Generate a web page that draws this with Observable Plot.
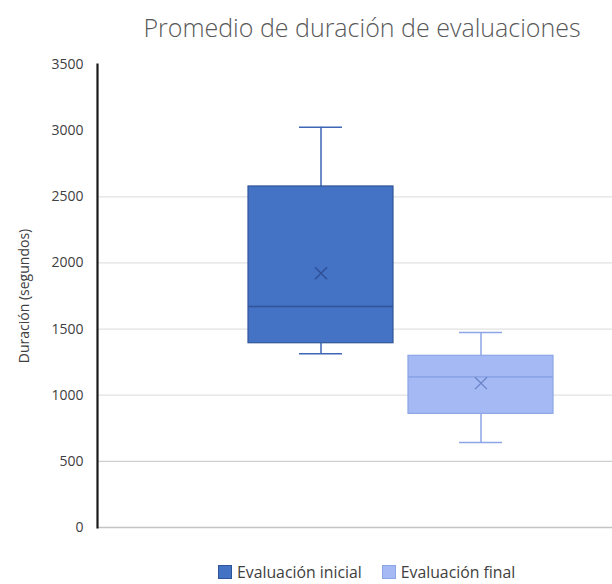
<!DOCTYPE html>
<html>
<head>
<meta charset="utf-8">
<script src="https://cdn.jsdelivr.net/npm/d3@7"></script>
<script src="https://cdn.jsdelivr.net/npm/@observablehq/plot@0.6"></script>
<style>
  body { margin: 0; background: #fff; }
  #wrap { position: relative; width: 612px; height: 584px; overflow: hidden; font-family: "Open Sans", sans-serif; }
  #title { position: absolute; top: 10px; left: 362px; transform: translateX(-50%); white-space: nowrap;
           font-size: 25px; font-weight: 300; color: #595959; line-height: 34px; }
  #legend { position: absolute; top: 561px; left: 218px; white-space: nowrap; font-size: 15.8px; color: #404040;
            display: flex; align-items: center; line-height: 22px; }
  #legend .sw { display: inline-block; width: 14px; height: 14px; margin-right: 5px; }
  #legend .item { display: flex; align-items: center; margin-right: 20px; }
  #chart { position: absolute; top: 0; left: 0; }
</style>
</head>
<body>
<div id="wrap">
  <div id="chart"></div>
  <div id="title">Promedio de duración de evaluaciones</div>
  <div id="legend"></div>
</div>
<script>
const groups = ["Evaluación inicial", "Evaluación final"];
const minVals = [1313, 643];
const q1Vals = [1393, 859];
const medianVals = [1671, 1139];
const meanVals = [1922, 1091];
const q3Vals = [2578, 1298];
const maxVals = [3025, 1474];
const yTicks = [0, 500, 1000, 1500, 2000, 2500, 3000, 3500];
const gridTicks = [1000, 1500, 2000, 2500];

const fills = ["#4472C4", "#A5BAF4"];
const strokes = ["#2F5597", "#8CA5E6"];
const whisk = ["#3D66B5", "#8CA5E6"];
const markC = ["#2E4E96", "#6A84C8"];

const data = groups.map((g, i) => ({
  group: g, min: minVals[i], q1: q1Vals[i], median: medianVals[i],
  mean: meanVals[i], q3: q3Vals[i], max: maxVals[i],
  fill: fills[i], stroke: strokes[i], whisk: whisk[i], markC: markC[i]
}));

const chart = Plot.plot({
  width: 612,
  height: 584,
  marginTop: 64,
  marginBottom: 57,
  marginLeft: 97,
  marginRight: 0,
  style: { fontFamily: "Open Sans, sans-serif", fontSize: "13px", color: "#404040", background: "transparent" },
  x: { type: "band", domain: groups, range: [247.5, 552.5], paddingInner: 0.09375, paddingOuter: 0, axis: null },
  y: { domain: [0, 3500], label: null },
  marks: [
    Plot.ruleY(gridTicks, { stroke: "#e2e2e2", strokeWidth: 1.2 }),
    Plot.ruleY([500], { stroke: "#cfcfcf", strokeWidth: 1.4 }),
    Plot.ruleY([0], { stroke: "#c4c4c4", strokeWidth: 1.6 }),
    Plot.axisY({ ticks: yTicks, tickSize: 0, tickPadding: 14, tickFormat: d => String(d), fontSize: 14, fill: "#404040" }),
    Plot.text(["Duración (segundos)"], { frameAnchor: "left", textAnchor: "middle", dx: -73, rotate: -90, fontSize: 14, fill: "#404040" }),
    Plot.ruleX(data, { x: "group", y1: "min", y2: "q1", stroke: "whisk", strokeWidth: 1.5 }),
    Plot.ruleX(data, { x: "group", y1: "q3", y2: "max", stroke: "whisk", strokeWidth: 1.5 }),
    Plot.tickY(data, { x: "group", y: "max", stroke: "whisk", strokeWidth: 1.5, insetLeft: 51, insetRight: 51 }),
    Plot.tickY(data, { x: "group", y: "min", stroke: "whisk", strokeWidth: 1.5, insetLeft: 51, insetRight: 51 }),
    Plot.barY(data, { x: "group", y1: "q1", y2: "q3", fill: "fill", stroke: "stroke", strokeWidth: 1.2 }),
    Plot.tickY(data, { x: "group", y: "median", stroke: "stroke", strokeWidth: 1.6 }),
    Plot.dot(data, { x: "group", y: "mean", symbol: "times", r: 5.5, stroke: "markC", strokeWidth: 1.3 }),
    Plot.frame({ anchor: "left", stroke: "#1a1a1a", strokeWidth: 2.2 })
  ]
});
document.getElementById("chart").appendChild(chart);

const legend = document.getElementById("legend");
groups.forEach((g, i) => {
  const item = document.createElement("span");
  item.className = "item";
  const sw = document.createElement("span");
  sw.className = "sw";
  sw.style.background = fills[i];
  sw.style.border = "1px solid " + strokes[i];
  sw.style.boxSizing = "border-box";
  item.appendChild(sw);
  item.appendChild(document.createTextNode(g));
  legend.appendChild(item);
});
</script>
</body>
</html>
